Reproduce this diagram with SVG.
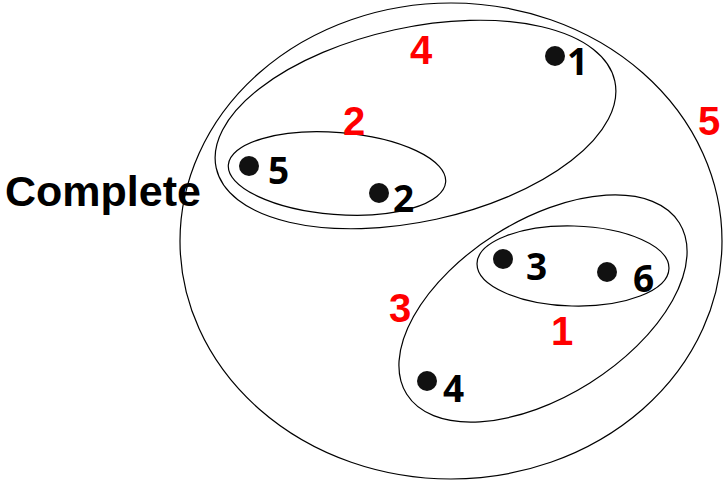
<svg xmlns="http://www.w3.org/2000/svg" width="725" height="480" viewBox="0 0 725 480">
<style>
.c{fill:none;stroke:#000;stroke-width:1.2}
.d{fill:#111}
.n{font-family:"Open Sans","Liberation Sans",sans-serif;font-weight:bold;font-size:37px;fill:#000}
.r{font-family:"Liberation Sans",Arial,sans-serif;font-weight:bold;font-size:40px;fill:#f00}
.t{font-family:"Liberation Sans",Arial,sans-serif;font-weight:bold;font-size:43px;fill:#000}
</style>
<rect width="725" height="480" fill="#fff"/>
<g id="clusters">
<ellipse id="c5" class="c" cx="451" cy="241" rx="271" ry="238"/>
<ellipse id="c4" class="c" cx="415.5" cy="124.5" rx="204" ry="97" transform="rotate(-12.3 415.5 124.5)"/>
<ellipse id="c2" class="c" cx="337" cy="173.5" rx="109" ry="41" transform="rotate(4.5 337 173.5)"/>
<ellipse id="c3" class="c" cx="543" cy="308.5" rx="161" ry="88" transform="rotate(-32.2 543 308.5)"/>
<ellipse id="c1" class="c" cx="573" cy="266" rx="96" ry="40" transform="rotate(1.5 573 266)"/>
</g>
<g id="n1"><circle class="d" cx="555" cy="56" r="10"/><text class="n" x="567" y="75">1</text></g>
<g id="n5"><circle class="d" cx="249" cy="166" r="10"/><text class="n" x="268" y="184">5</text></g>
<g id="n2"><circle class="d" cx="379" cy="193" r="10"/><text class="n" x="393" y="212">2</text></g>
<g id="n3"><circle class="d" cx="503" cy="259" r="10"/><text class="n" x="526" y="280">3</text></g>
<g id="n6"><circle class="d" cx="607" cy="272" r="10"/><text class="n" x="633" y="292">6</text></g>
<g id="n4"><circle class="d" cx="427" cy="381" r="10"/><text class="n" x="443" y="402">4</text></g>
<g id="labels">
<text class="r" x="410" y="64">4</text>
<text class="r" x="343" y="135">2</text>
<text class="r" x="698" y="135">5</text>
<text class="r" x="389" y="322">3</text>
<text class="r" x="551" y="345">1</text>
<text class="t" x="5" y="206">Complete</text>
</g>
</svg>
